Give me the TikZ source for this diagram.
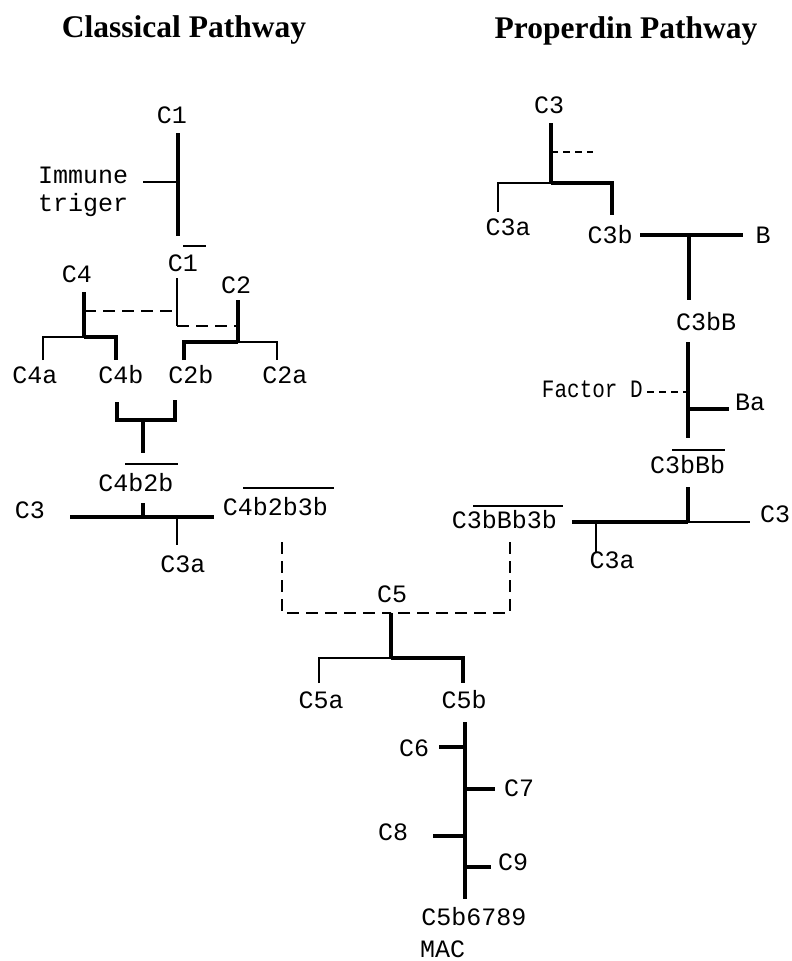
\documentclass[tikz,border=0pt]{standalone}
\usepackage{fontspec}
\setmainfont{Liberation Serif}
\setmonofont{Liberation Mono}
\newfontfamily\narrowmono[FakeStretch=0.84]{Liberation Mono}
\begin{document}
\begin{tikzpicture}[x=1pt,y=-1pt,
  lbl/.style={font=\fontsize{25}{30}\selectfont\ttfamily, inner sep=0pt, anchor=base},
  ttl/.style={font=\fontsize{31.5}{36}\selectfont\bfseries, inner sep=0pt, anchor=base},
  thk/.style={line width=4.2pt},
  thn/.style={line width=1.7pt},
  dsh/.style={line width=1.7pt, dash pattern=on 12pt off 7pt},
  sdsh/.style={line width=1.7pt, dash pattern=on 7pt off 5pt},
  ovl/.style={line width=1.7pt}]
\useasboundingbox (0,0) rectangle (792,961);
% titles
\node[ttl] (tc) at (184,37) {Classical Pathway};
\node[ttl] (tp) at (626,38) {Properdin Pathway};
% ---------- labels: classical ----------
\node[lbl] (c1) at (172,123) {C1};
\node[lbl, anchor=base west, align=left, font=\fontsize{25}{28}\selectfont\ttfamily] (imm) at (38,211) {Immune\\triger};
\node[lbl] (c1a) at (183,271) {C1};
\node[lbl] (c4) at (77,282) {C4};
\node[lbl] (c2) at (236,293) {C2};
\node[lbl] (c4a) at (35,383) {C4a};
\node[lbl] (c4b) at (121,383) {C4b};
\node[lbl] (c2b) at (191,383) {C2b};
\node[lbl] (c2a) at (285,383) {C2a};
\node[lbl] (c42) at (136,491) {C4b2b};
\node[lbl] (c3L) at (30,518) {C3};
\node[lbl] (c3aL) at (183,572) {C3a};
\node[lbl] (c423) at (275.5,515) {C4b2b3b};
% ---------- labels: properdin ----------
\node[lbl] (c3R) at (549,113) {C3};
\node[lbl] (c3aR) at (508,235) {C3a};
\node[lbl] (c3b) at (610,243) {C3b};
\node[lbl] (bB) at (763,243) {B};
\node[lbl] (c3bB) at (706,330) {C3bB};
\node[lbl, anchor=base east, font=\fontsize{25}{30}\selectfont\narrowmono] (fd) at (643,397) {Factor D};
\node[lbl] (ba) at (750,410) {Ba};
\node[lbl] (c3bBb) at (687.5,473) {C3bBb};
\node[lbl] (c3bBb3b) at (504.5,528) {C3bBb3b};
\node[lbl] (c3R2) at (775,522) {C3};
\node[lbl] (c3aR2) at (612,568) {C3a};
% ---------- labels: terminal ----------
\node[lbl] (c5) at (392,602) {C5};
\node[lbl] (c5a) at (321,708) {C5a};
\node[lbl] (c5b) at (464,708) {C5b};
\node[lbl] (c6) at (414,756) {C6};
\node[lbl] (c7) at (519,796) {C7};
\node[lbl] (c8) at (393,840) {C8};
\node[lbl] (c9) at (513,870) {C9};
\node[lbl] (mac1) at (474,925) {C5b6789};
\node[lbl, anchor=base west] (mac2) at (420,957) {MAC};
% ---------- coordinates ----------
\coordinate (c1t) at (178,133); \coordinate (c1d) at (178,236);
\coordinate (immj) at (178,182); \coordinate (imme) at (143,182);
\coordinate (c1bt) at (177,278); \coordinate (c1bb) at (177,326); \coordinate (c1bm) at (177,311);
\coordinate (c4t) at (84,292); \coordinate (c4j) at (84,337); \coordinate (c4m) at (84,311);
\coordinate (c4ad) at (43,360); \coordinate (c4bd) at (116,360);
\coordinate (c2t) at (238,300); \coordinate (c2j) at (238,342); \coordinate (c2m) at (238,326);
\coordinate (c2bd) at (184,360); \coordinate (c2ad) at (277,360);
\coordinate (brl) at (117,402); \coordinate (brr) at (175,400);
\coordinate (brj) at (143,420); \coordinate (brd) at (143,453);
\coordinate (c3l) at (70,517); \coordinate (c3r) at (214,517);
\coordinate (c3tk) at (143,503); \coordinate (c3tj) at (143,517);
\coordinate (c3aj) at (177,517); \coordinate (c3ad) at (177,545);
\coordinate (dl) at (282,542); \coordinate (dr) at (510,542); \coordinate (c5j) at (391,613);
\coordinate (c5f) at (391,658); \coordinate (c5ad) at (319,683); \coordinate (c5bd) at (463,683);
\coordinate (mt) at (465,722); \coordinate (mb) at (465,899);
\coordinate (c6e) at (439,747); \coordinate (c6j) at (465,747);
\coordinate (c7j) at (465,789); \coordinate (c7e) at (495,789);
\coordinate (c8e) at (433,836); \coordinate (c8j) at (465,836);
\coordinate (c9j) at (465,867); \coordinate (c9e) at (491,867);
\coordinate (r3t) at (551,123); \coordinate (r3j) at (551,183);
\coordinate (r3m) at (551,152); \coordinate (r3me) at (593,152);
\coordinate (r3ad) at (498,212); \coordinate (r3bd) at (612,215);
\coordinate (rbl) at (640,235); \coordinate (rbr) at (743,235);
\coordinate (rbj) at (689,235); \coordinate (rbd) at (689,300);
\coordinate (rct) at (688,342); \coordinate (rcb) at (688,438);
\coordinate (rfd) at (647,392); \coordinate (rfj) at (688,392);
\coordinate (rbaj) at (688,409); \coordinate (rbae) at (729,409);
\coordinate (rdt) at (688,487); \coordinate (rdj) at (688,522);
\coordinate (rdl) at (572,522); \coordinate (rdr) at (750,522);
\coordinate (raj) at (596,522); \coordinate (rad) at (596,553);
% overline coordinates
\coordinate (o1a) at (183,246); \coordinate (o1b) at (206,246);
\coordinate (o2a) at (125,464); \coordinate (o2b) at (178,464);
\coordinate (o3a) at (243,488); \coordinate (o3b) at (334,488);
\coordinate (o4a) at (672,450); \coordinate (o4b) at (725,450);
\coordinate (o5a) at (473,506); \coordinate (o5b) at (563,506);
% ---------- classical connectors ----------
\draw[thk] (c1t) -- (c1d);
\draw[thn] (imme) -- (immj);
\draw[thn] (c1bt) -- (c1bb);
\draw[dsh] (c4m) -- (c1bm);
\draw[dsh] (c1bb) -- (c2m);
\draw[thk] (c4t) -- (c4j);
\draw[thn] (c4ad) |- (c4j);
\draw[thk] (c4j) -| (c4bd);
\draw[thk] (c2t) -- (c2j);
\draw[thk] (c2bd) |- (c2j);
\draw[thn] (c2j) -| (c2ad);
\draw[thk] (brl) |- (brj) -| (brr);
\draw[thk] (brj) -- (brd);
\draw[thk] (c3l) -- (c3r);
\draw[thk] (c3tk) -- (c3tj);
\draw[thn] (c3aj) -- (c3ad);
% ---------- properdin connectors ----------
\draw[thk] (r3t) -- (r3j);
\draw[sdsh] (r3m) -- (r3me);
\draw[thn] (r3ad) |- (r3j);
\draw[thk] (r3j) -| (r3bd);
\draw[thk] (rbl) -- (rbr);
\draw[thk] (rbj) -- (rbd);
\draw[thk] (rct) -- (rcb);
\draw[sdsh] (rfd) -- (rfj);
\draw[thk] (rbaj) -- (rbae);
\draw[thk] (rdt) -- (rdj);
\draw[thk] (rdl) -- (rdj);
\draw[thn] (rdj) -- (rdr);
\draw[thn] (raj) -- (rad);
% ---------- convergence ----------
\draw[dsh] (dl) |- (c5j);
\draw[dsh] (dr) |- (c5j);
\draw[thk] (c5j) -- (c5f);
\draw[thn] (c5ad) |- (c5f);
\draw[thk] (c5f) -| (c5bd);
\draw[thk] (mt) -- (mb);
\draw[thk] (c6e) -- (c6j);
\draw[thk] (c7j) -- (c7e);
\draw[thk] (c8e) -- (c8j);
\draw[thk] (c9j) -- (c9e);
% ---------- overlines ----------
\draw[ovl] (o1a) -- (o1b);
\draw[ovl] (o2a) -- (o2b);
\draw[ovl] (o3a) -- (o3b);
\draw[ovl] (o4a) -- (o4b);
\draw[ovl] (o5a) -- (o5b);
\end{tikzpicture}
\end{document}
